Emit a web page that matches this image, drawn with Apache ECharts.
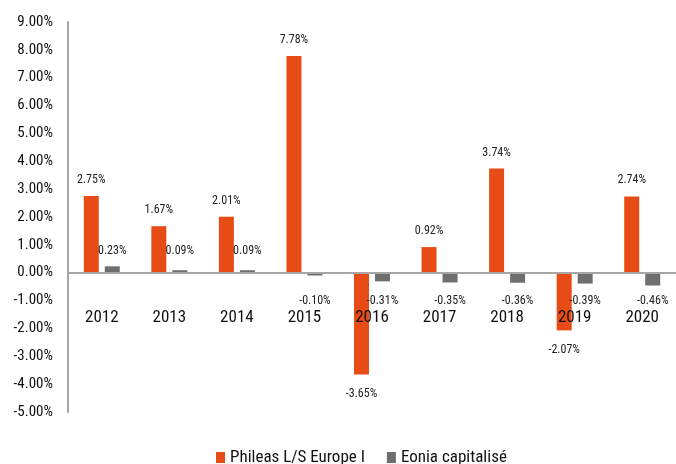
<!DOCTYPE html>
<html>
<head>
<meta charset="utf-8">
<script src="https://cdn.jsdelivr.net/npm/echarts@6/dist/echarts.min.js"></script>
<style>
  html, body { margin: 0; padding: 0; background: #fff; }
  #chart { width: 676px; height: 464px; }
</style>
</head>
<body>
<div id="chart"></div>
<script>
// données
const years = ['2012', '2013', '2014', '2015', '2016', '2017', '2018', '2019', '2020']
const phileas = [2.75, 1.67, 2.01, 7.78, -3.65, 0.92, 3.74, -2.07, 2.74]
const eonia = [0.23, 0.09, 0.09, -0.10, -0.31, -0.35, -0.36, -0.39, -0.46]
const yTicks = [9, 8, 7, 6, 5, 4, 3, 2, 1, 0, -1, -2, -3, -4, -5]

const FONT = '"Liberation Sans Narrow", "Roboto Condensed", "Liberation Sans", sans-serif'
const ORANGE = '#E84C16'
const GRAY = '#6E6E6E'

const chart = echarts.init(document.getElementById('chart'))

// px par 1% (hauteur de grille 390 / 14)
const pxPerUnit = 390 / 14

const fmt = p => p.value.toFixed(2) + '%'

const orangeData = phileas.map(v => ({
  value: v,
  label: { position: v >= 0 ? 'top' : 'bottom', distance: v >= 0 ? 10 : 14 }
}))

// les étiquettes Eonia sont à hauteur fixe par rapport au zéro
const eoniaData = eonia.map(v => ({
  value: v,
  label: {
    position: v >= 0 ? 'top' : 'bottom',
    distance: v >= 0 ? 16 - v * pxPerUnit : 22 - Math.abs(v) * pxPerUnit
  }
}))

chart.setOption({
  animation: false,
  textStyle: { fontFamily: FONT },
  grid: { left: 68, right: 0, top: 22, height: 390 },
  legend: {
    left: 211,
    bottom: -7,
    itemWidth: 9,
    itemHeight: 11,
    itemGap: 22,
    icon: 'rect',
    textStyle: { fontSize: 17, color: '#111', fontFamily: FONT },
    data: ['Phileas L/S Europe I', 'Eonia capitalisé']
  },
  xAxis: {
    type: 'category',
    data: years,
    z: 5,
    axisLine: { onZero: true, lineStyle: { color: '#A6A6A6', width: 2 } },
    axisTick: { show: false },
    // les libellés sont placés sous la ligne du zéro
    axisLabel: { color: '#111', fontSize: 17, margin: -103, fontFamily: FONT, hideOverlap: false }
  },
  yAxis: {
    type: 'value',
    min: -5,
    max: 9,
    interval: 1,
    axisLine: { show: true, lineStyle: { color: '#A6A6A6', width: 2 } },
    axisTick: { show: false },
    splitLine: { show: false },
    axisLabel: {
      color: '#111',
      fontSize: 15,
      margin: 15,
      fontFamily: FONT,
      formatter: v => v.toFixed(2) + '%'
    }
  },
  series: [
    {
      name: 'Phileas L/S Europe I',
      type: 'bar',
      data: orangeData,
      barWidth: 15,
      barGap: '40%',
      itemStyle: { color: ORANGE },
      label: { show: true, formatter: fmt, fontSize: 12, color: '#222', fontFamily: FONT }
    },
    {
      name: 'Eonia capitalisé',
      type: 'bar',
      data: eoniaData,
      barWidth: 15,
      itemStyle: { color: GRAY },
      label: { show: true, formatter: fmt, fontSize: 12, color: '#222', fontFamily: FONT }
    }
  ]
})
</script>
</body>
</html>
